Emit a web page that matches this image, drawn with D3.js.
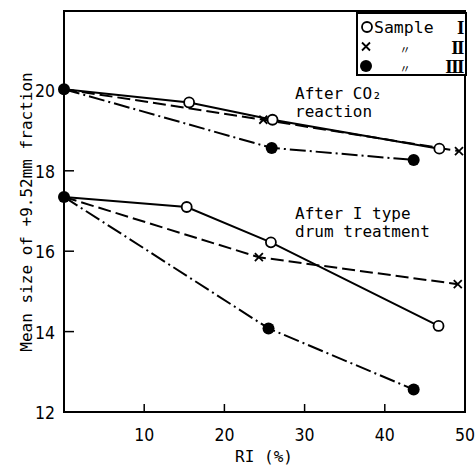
<!DOCTYPE html>
<html><head><meta charset="utf-8">
<script src="https://cdn.jsdelivr.net/npm/d3@7"></script>
<style>body{margin:0;background:#fff}svg{display:block}</style>
</head><body>
<svg id="c" width="475" height="466"></svg>
<script>
// Data (RI %, mean size)
const co2SampleI   = [[0,20.03],[15.6,19.70],[26.0,19.27],[46.8,18.55]];
const co2SampleII  = [[0,20.03],[24.85,19.27],[49.25,18.49]];
const co2SampleIII = [[0,20.03],[25.9,18.57],[43.6,18.27]];
const drumSampleI   = [[0,17.35],[15.3,17.10],[25.8,16.22],[46.7,14.14]];
const drumSampleII  = [[0,17.35],[24.3,15.85],[49.1,15.18]];
const drumSampleIII = [[0,17.35],[25.5,14.08],[43.6,12.56]];
const xTicks = [10,20,30,40,50];
const yTicks = [12,14,16,18,20];
const legendNames = ["Sample", "〃", "〃"];
const legendNumerals = ["I","II","III"];

const svg = d3.select("#c");
const mono = "'DejaVu Sans Mono', monospace";
const narrow = "'DejaVu Sans Condensed', 'Liberation Sans Narrow', sans-serif";
const x = d3.scaleLinear().domain([0,50]).range([64,465]);
const y = d3.scaleLinear().domain([12,22]).range([412,10]);

// frame
svg.append("rect").attr("x",64).attr("y",11).attr("width",401).attr("height",401)
  .attr("fill","none").attr("stroke","#000").attr("stroke-width",2);

// x ticks (inward)
svg.append("g").selectAll("line").data(xTicks.filter(d=>d<50)).join("line")
  .attr("x1",d=>x(d)).attr("x2",d=>x(d)).attr("y1",412).attr("y2",404)
  .attr("stroke","#000").attr("stroke-width",1.5);
svg.append("g").selectAll("text").data(xTicks).join("text")
  .attr("x",d=>x(d)).attr("y",441).attr("text-anchor","middle")
  .attr("font-family",narrow).attr("font-size",17.5)
  .text(d=>d);
// y ticks
svg.append("g").selectAll("line").data(yTicks.filter(d=>d>12)).join("line")
  .attr("x1",64).attr("x2",74).attr("y1",d=>y(d)).attr("y2",d=>y(d))
  .attr("stroke","#000").attr("stroke-width",1.5);
svg.append("g").selectAll("text").data(yTicks).join("text")
  .attr("x",55).attr("y",d=>y(d)+7).attr("text-anchor","end")
  .attr("font-family",narrow).attr("font-size",17.5)
  .text(d=>d);

// axis titles
svg.append("text").attr("x",264).attr("y",462).attr("text-anchor","middle")
  .attr("font-family",mono).attr("font-size",16).text("RI (%)");
svg.append("text").attr("transform","translate(32,212) rotate(-90)").attr("text-anchor","middle")
  .attr("font-family",mono).attr("font-size",16).text("Mean size of +9.52mm fraction");

const line = d3.line().x(d=>x(d[0])).y(d=>y(d[1]));
const styles = [
  {dash:null},
  {dash:"13,5"},
  {dash:"16,4,2,4"}
];
const groups = [
  [co2SampleI, co2SampleII, co2SampleIII],
  [drumSampleI, drumSampleII, drumSampleIII]
];
groups.forEach(g=>{
  g.forEach((s,i)=>{
    svg.append("path").datum(s).attr("d",line).attr("fill","none")
      .attr("stroke","#000").attr("stroke-width",2)
      .attr("stroke-dasharray",styles[i].dash);
  });
});
function marker(sel, type, cx, cy){
  if(type===0){
    sel.append("circle").attr("cx",cx).attr("cy",cy).attr("r",5)
      .attr("fill","#fff").attr("stroke","#000").attr("stroke-width",1.8);
  } else if(type===1){
    const r=4;
    sel.append("path").attr("d",`M${cx-r},${cy-r}L${cx+r},${cy+r}M${cx-r},${cy+r}L${cx+r},${cy-r}`)
      .attr("stroke","#000").attr("stroke-width",1.8);
  } else {
    sel.append("circle").attr("cx",cx).attr("cy",cy).attr("r",6).attr("fill","#000");
  }
}
groups.forEach(g=>{
  g.forEach((s,i)=>{
    s.slice(1).forEach(p=>marker(svg,i,x(p[0]),y(p[1])));
  });
  marker(svg,2,x(g[0][0][0]),y(g[0][0][1]));
});

// annotations
const ann = svg.append("g").attr("font-family",mono).attr("font-size",16);
ann.append("text").attr("x",295).attr("y",99).text("After CO₂");
ann.append("text").attr("x",295).attr("y",117).text("reaction");
ann.append("text").attr("x",295).attr("y",219).text("After I type");
ann.append("text").attr("x",295).attr("y",237).text("drum treatment");

// legend
const lg = svg.append("g");
lg.append("rect").attr("x",357).attr("y",13).attr("width",109).attr("height",62)
  .attr("fill","#fff").attr("stroke","#000").attr("stroke-width",2);
[0,1,2].forEach(i=>{
  const cy = 27 + i*19.5;
  marker(lg, i, i===0?367:366, cy);
  if(i===0){
    lg.append("text").attr("x",374).attr("y",cy+6).attr("font-family",mono).attr("font-size",16.5).text(legendNames[i]);
  } else {
    lg.append("text").attr("x",405).attr("y",cy+7).attr("text-anchor","middle").attr("font-family","'Noto Sans CJK JP', sans-serif").attr("font-size",11).text(legendNames[i]);
  }
  lg.append("text").attr("x",463).attr("y",cy+7).attr("text-anchor","end")
    .attr("font-family","'Liberation Serif', serif").attr("font-weight","bold").attr("font-size",19)
    .attr("letter-spacing",-1.5).text(legendNumerals[i]);
});
</script>
</body></html>
